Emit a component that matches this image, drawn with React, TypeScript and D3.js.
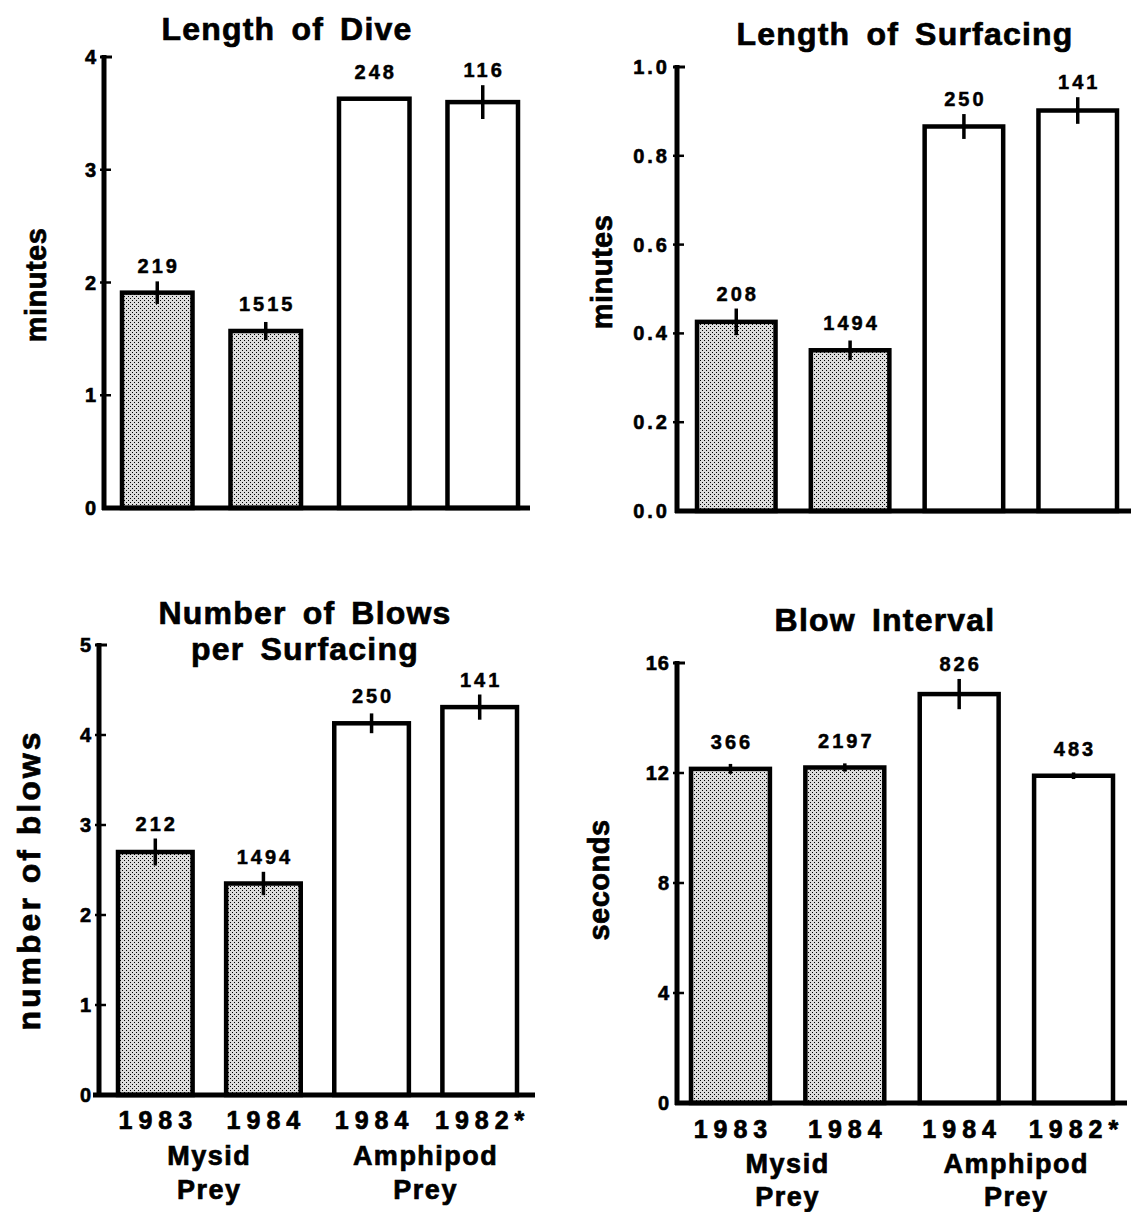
import React from "react";
import * as d3 from "d3";

// ---------- data ----------
const years = ["1983", "1984", "1984", "1982*"];
const preyType = ["Mysid", "Mysid", "Amphipod", "Amphipod"];
const preyGroups = ["Mysid", "Amphipod"];

const diveMeans = [1.91, 1.57, 3.63, 3.6];
const diveErr = [0.1, 0.08, 0.012, 0.15];
const diveN = ["219", "1515", "248", "116"];
const diveTicks = [0, 1, 2, 3, 4];

const surfMeans = [0.426, 0.362, 0.866, 0.902];
const surfErr = [0.03, 0.022, 0.028, 0.03];
const surfN = ["208", "1494", "250", "141"];
const surfTicks = [0, 0.2, 0.4, 0.6, 0.8, 1.0];

const blowsMeans = [2.7, 2.35, 4.13, 4.31];
const blowsErr = [0.15, 0.13, 0.11, 0.14];
const blowsN = ["212", "1494", "250", "141"];
const blowsTicks = [0, 1, 2, 3, 4, 5];

const intervalMeans = [12.15, 12.2, 14.87, 11.9];
const intervalErr = [0.18, 0.15, 0.55, 0.12];
const intervalN = ["366", "2197", "826", "483"];
const intervalTicks = [0, 4, 8, 12, 16];

const FONT = "'Liberation Sans', Arial, Helvetica, sans-serif";
const TS = 0.7; // text stroke for heavier weight

type PanelSpec = {
  title: string[];
  titleX: number;
  titleY: number[];
  yLabel: string;
  yLabelX: number;
  yLabelY: number;
  yLabelSize: number;
  yLabelLs: number;
  means: number[];
  errs: number[];
  ns: string[];
  ticks: number[];
  fmt: (v: number) => string;
  max: number;
  axisX: number;
  y0: number;
  yTop: number;
  barsLeft: number;
  barsRight: number;
  pad: number;
  baseLeft: number;
  baseRight: number;
  showX: boolean;
  yearY?: number;
  groupY?: number;
  preyY?: number;
};

function Panel({ p }: { p: PanelSpec }) {
  const y = d3.scaleLinear().domain([0, p.max]).range([p.y0, p.yTop]);
  const x = d3
    .scaleBand<string>()
    .domain(d3.range(p.means.length).map(String))
    .range([p.barsLeft, p.barsRight])
    .paddingInner(p.pad)
    .paddingOuter(0);
  const bw = x.bandwidth();
  const cx = (i: number) => (x(String(i)) as number) + bw / 2;
  const groupCenter = (g: string) =>
    d3.mean(
      preyType.map((t, i) => (t === g ? cx(i) : NaN)).filter((v) => !isNaN(v))
    ) as number;

  return (
    <g fontFamily={FONT} fontWeight="bold" fill="#000">
      <g stroke="#000" strokeWidth={TS}>
        {p.title.map((t, i) => (
          <text
            key={"t" + i}
            x={p.titleX}
            y={p.titleY[i]}
            textAnchor="middle"
            fontSize={32}
            letterSpacing={1.2}
            wordSpacing={6}
          >
            {t}
          </text>
        ))}
        <text
          transform={`translate(${p.yLabelX},${p.yLabelY}) rotate(-90)`}
          textAnchor="middle"
          fontSize={p.yLabelSize}
          letterSpacing={p.yLabelLs}
        >
          {p.yLabel}
        </text>
      </g>

      {/* bars */}
      {p.means.map((m, i) => (
        <rect
          key={"b" + i}
          x={x(String(i))}
          y={y(m)}
          width={bw}
          height={p.y0 - y(m)}
          fill={preyType[i] === "Mysid" ? "url(#stipple)" : "#fff"}
          stroke="#000"
          strokeWidth={4.5}
        />
      ))}
      {/* error bars */}
      {p.means.map((m, i) => (
        <line
          key={"e" + i}
          x1={cx(i)}
          x2={cx(i)}
          y1={y(m + p.errs[i])}
          y2={y(m - p.errs[i])}
          stroke="#000"
          strokeWidth={3.5}
        />
      ))}
      {/* counts */}
      <g stroke="#000" strokeWidth={0.5}>
        {p.means.map((m, i) => (
          <text
            key={"n" + i}
            x={cx(i) + 1.5}
            y={Math.min(y(m + p.errs[i]), y(m) - 12) - 8}
            textAnchor="middle"
            fontSize={20}
            letterSpacing={3}
          >
            {p.ns[i]}
          </text>
        ))}
      </g>

      {/* y axis */}
      <line
        x1={p.axisX}
        x2={p.axisX}
        y1={p.y0 + 2}
        y2={y(p.max) - 2}
        stroke="#000"
        strokeWidth={5}
      />
      {p.ticks.map((t, i) => (
        <g key={"k" + i}>
          {t > 0 && (
            <line
              x1={p.axisX - 4}
              x2={p.axisX + (t === p.max ? 8 : 7)}
              y1={y(t)}
              y2={y(t)}
              stroke="#000"
              strokeWidth={t === p.max ? 3 : 2.5}
            />
          )}
          <text
            x={p.axisX - 7}
            y={y(t) + 7}
            textAnchor="end"
            fontSize={20}
            stroke="#000"
            strokeWidth={0.6}
            letterSpacing={p.max === 1 ? 3 : 1}
          >
            {p.fmt(t)}
          </text>
        </g>
      ))}
      {/* x baseline */}
      <line
        x1={p.baseLeft}
        x2={p.baseRight}
        y1={p.y0}
        y2={p.y0}
        stroke="#000"
        strokeWidth={5}
      />

      {p.showX && (
        <g stroke="#000" strokeWidth={TS}>
          {years.map((yr, i) => (
            <text
              key={"y" + i}
              x={cx(i) + 3}
              y={p.yearY}
              textAnchor="middle"
              fontSize={25}
              letterSpacing={6}
            >
              {yr}
            </text>
          ))}
          {preyGroups.map((g) => (
            <g key={g}>
              <text
                x={groupCenter(g)}
                y={p.groupY}
                textAnchor="middle"
                fontSize={27}
                letterSpacing={1.5}
              >
                {g}
              </text>
              <text
                x={groupCenter(g)}
                y={p.preyY}
                textAnchor="middle"
                fontSize={27}
                letterSpacing={1.5}
              >
                Prey
              </text>
            </g>
          ))}
        </g>
      )}
    </g>
  );
}

const intFmt = (v: number) => d3.format("d")(v);
const oneFmt = (v: number) => d3.format(".1f")(v);

const panels: PanelSpec[] = [
  {
    title: ["Length of Dive"],
    titleX: 287,
    titleY: [40],
    yLabel: "minutes",
    yLabelX: 46,
    yLabelY: 285,
    yLabelSize: 29,
    yLabelLs: 0.5,
    means: diveMeans,
    errs: diveErr,
    ns: diveN,
    ticks: diveTicks,
    fmt: intFmt,
    max: 4,
    axisX: 104,
    y0: 508,
    yTop: 57,
    barsLeft: 122,
    barsRight: 518,
    pad: 0.35,
    baseLeft: 102,
    baseRight: 530,
    showX: false,
  },
  {
    title: ["Length of Surfacing"],
    titleX: 905,
    titleY: [45],
    yLabel: "minutes",
    yLabelX: 612,
    yLabelY: 272,
    yLabelSize: 29,
    yLabelLs: 0.5,
    means: surfMeans,
    errs: surfErr,
    ns: surfN,
    ticks: surfTicks,
    fmt: oneFmt,
    max: 1,
    axisX: 677,
    y0: 511,
    yTop: 67,
    barsLeft: 697,
    barsRight: 1117,
    pad: 0.31,
    baseLeft: 675,
    baseRight: 1131,
    showX: false,
  },
  {
    title: ["Number of Blows", "per Surfacing"],
    titleX: 305,
    titleY: [624, 660],
    yLabel: "number of blows",
    yLabelX: 40,
    yLabelY: 880,
    yLabelSize: 32,
    yLabelLs: 3,
    means: blowsMeans,
    errs: blowsErr,
    ns: blowsN,
    ticks: blowsTicks,
    fmt: intFmt,
    max: 5,
    axisX: 99,
    y0: 1095,
    yTop: 645,
    barsLeft: 118,
    barsRight: 517,
    pad: 0.31,
    baseLeft: 93,
    baseRight: 535,
    showX: true,
    yearY: 1129,
    groupY: 1165,
    preyY: 1199,
  },
  {
    title: ["Blow Interval"],
    titleX: 885,
    titleY: [631],
    yLabel: "seconds",
    yLabelX: 609,
    yLabelY: 880,
    yLabelSize: 29,
    yLabelLs: 0.5,
    means: intervalMeans,
    errs: intervalErr,
    ns: intervalN,
    ticks: intervalTicks,
    fmt: intFmt,
    max: 16,
    axisX: 677,
    y0: 1103,
    yTop: 663,
    barsLeft: 691,
    barsRight: 1113,
    pad: 0.31,
    baseLeft: 675,
    baseRight: 1127,
    showX: true,
    yearY: 1138,
    groupY: 1173,
    preyY: 1206,
  },
];

export default function App() {
  return (
    <svg
      width={1131}
      height={1212}
      viewBox="0 0 1131 1212"
      style={{ position: "absolute", left: 0, top: 0, display: "block", background: "#fff" }}
    >
      <defs>
        <pattern id="stipple" width={4} height={4} patternUnits="userSpaceOnUse">
          <rect width={4} height={4} fill="#dcdcdc" />
          <rect x={0} y={0} width={1} height={1} fill="#000" />
          <rect x={2} y={2} width={1} height={1} fill="#000" />
        </pattern>
      </defs>
      <rect width={1131} height={1212} fill="#fff" />
      {panels.map((p, i) => (
        <Panel key={i} p={p} />
      ))}
    </svg>
  );
}
